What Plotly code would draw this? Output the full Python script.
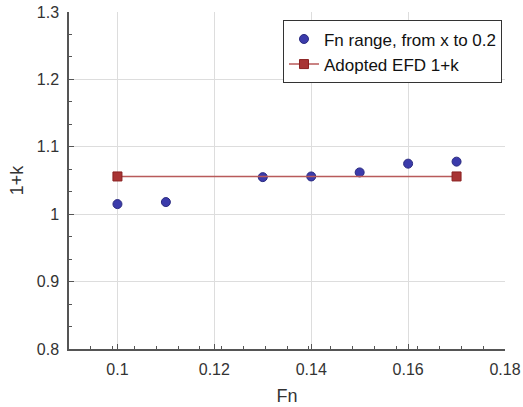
import plotly.graph_objects as go

fn_points = [0.10, 0.11, 0.13, 0.14, 0.15, 0.16, 0.17]
k_points = [1.015, 1.018, 1.055, 1.056, 1.062, 1.075, 1.078]
fn_adopted = [0.10, 0.17]
k_adopted = [1.056, 1.056]
x_ticks = [0.1, 0.12, 0.14, 0.16, 0.18]
y_ticks = [0.8, 0.9, 1.0, 1.1, 1.2, 1.3]

FONT = "Liberation Sans, Arial, Helvetica, sans-serif"

fig = go.Figure()
fig.add_trace(go.Scatter(
    x=fn_points, y=k_points, mode="markers",
    name="Fn range, from x to 0.2",
    marker=dict(symbol="circle", size=9, color="#3b3bab",
                line=dict(color="#2a2a80", width=1)),
))
fig.add_trace(go.Scatter(
    x=fn_adopted, y=k_adopted, mode="lines+markers",
    name="Adopted EFD 1+k",
    line=dict(color="#b85a5a", width=1.5),
    marker=dict(symbol="square", size=9, color="#a83434",
                line=dict(color="#8a2020", width=1)),
))

axis_common = dict(
    showgrid=True, gridcolor="#dddddd", gridwidth=1,
    showline=True, linecolor="#555555", linewidth=1.5,
    ticks="inside", ticklen=5, tickcolor="#555555",
    tickfont=dict(family=FONT, size=16, color="#333333"),
    zeroline=False, mirror=False, automargin=False,
    ticklabelstandoff=5,
)

fig.update_xaxes(
    range=[0.09, 0.18], tickvals=x_ticks,
    ticktext=[f"{v:g}" for v in x_ticks],
    title=dict(text="Fn", font=dict(family=FONT, size=18, color="#333333"), standoff=12),
    minor=dict(ticks="inside", ticklen=3, tickcolor="#555555",
               tick0=0.09, dtick=0.0045, showgrid=False),
    **axis_common,
)
fig.update_yaxes(
    range=[0.8, 1.3], tickvals=y_ticks,
    ticktext=[f"{v:g}" for v in y_ticks],
    title=dict(text="1+k", font=dict(family=FONT, size=18, color="#333333"), standoff=8),
    minor=dict(ticks="inside", ticklen=3, tickcolor="#555555",
               tick0=0.8, dtick=0.1 / 3, showgrid=False),
    **axis_common,
)

fig.update_layout(
    width=523, height=407,
    margin=dict(l=69, r=18, t=12, b=58, autoexpand=False),
    plot_bgcolor="white", paper_bgcolor="white",
    font=dict(family=FONT, size=16, color="#222222"),
    legend=dict(
        x=0.4908, y=0.975, xanchor="left", yanchor="top",
        bgcolor="white", bordercolor="#333333", borderwidth=1,
        font=dict(family=FONT, size=17, color="#111111"),
        itemwidth=30, tracegroupgap=0,
    ),
)

fig.write_html("out.html")
